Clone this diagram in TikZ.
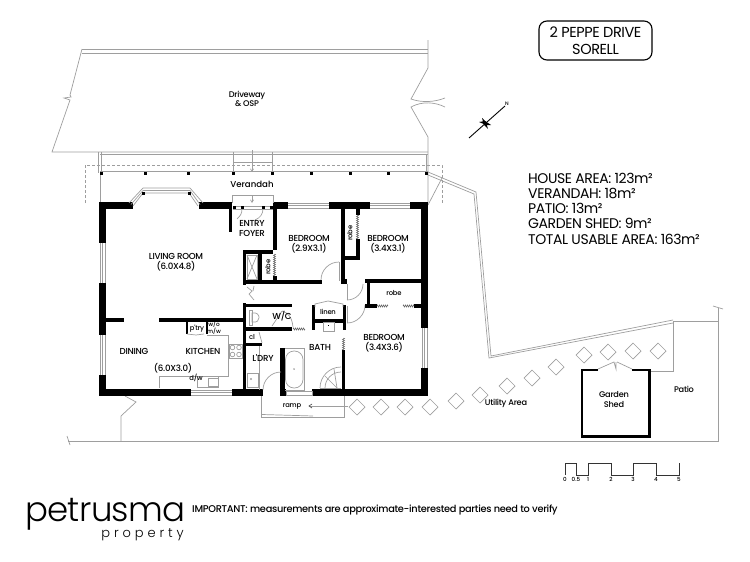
\documentclass[tikz,border=0pt]{standalone}
\usepackage{fontspec}
\setmainfont{Poppins}
\newfontfamily\logofont{Poppins Light}
\newfontfamily\medfont{Poppins Medium}
\usetikzlibrary{decorations.pathmorphing,arrows.meta}
\definecolor{ln}{gray}{0.62}
\tikzset{
  fine/.style={draw=ln,line width=0.7pt},
  dark/.style={draw=black!75,line width=0.6pt},
  dsh/.style={draw=ln,line width=0.6pt,dash pattern=on 3pt off 2pt},
  squig/.style={draw=black!60,line width=0.5pt,decorate,decoration={zigzag,segment length=2pt,amplitude=1pt}},
  wl/.style={fill=black,draw=none},
  lbl/.style={inner sep=0pt,align=center,font=\medfont\fontsize{8.7}{9.6}\selectfont\addfontfeatures{LetterSpace=-3}},
  lc/.style={inner sep=0pt,align=center,font=\medfont\fontsize{8.2}{9.6}\selectfont\addfontfeatures{LetterSpace=-3}},
  sml/.style={inner sep=0pt,align=center,font=\medfont\fontsize{6.8}{7.5}\selectfont\addfontfeatures{LetterSpace=-3}},
  tiny/.style={inner sep=0pt,align=center,font=\medfont\fontsize{5.6}{6}\selectfont},
  big/.style={inner sep=0pt,align=left,anchor=west,font=\fontsize{14}{15}\selectfont\addfontfeatures{LetterSpace=-3}},
}
\newcommand{\W}[4]{\fill[wl] (#1,#2) rectangle (#3,#4);}
\newcommand{\Post}[2]{\fill[wl] (#1-1.5,#2-1.5) rectangle (#1+1.5,#2+1.5);}
\newcommand{\Pad}[2]{\draw[fine] (#1-8,#2) -- (#1,#2-8) -- (#1+8,#2) -- (#1,#2+8) -- cycle;}
\begin{document}
\begin{tikzpicture}[x=1pt,y=-1pt]
\useasboundingbox (0,0) rectangle (750,562);
% driveway
\draw[fine] (82,49) -- (428,49);
\draw[fine] (82,53) -- (428,53);
\draw[fine] (82,49) -- (70,95) -- (71,97) -- (64,98) -- (70,100) -- (52,152) -- (428,152);
\draw[fine] (100,154.5) -- (428,154.5);
\draw[fine] (428,40) -- (428,68) -- (411,99) .. controls (422,103) and (435,102) .. (445,98);
\draw[fine] (445,107) .. controls (435,102) and (422,101) .. (411,107) -- (428,137) -- (428,205);
\draw[fine] (426,154) -- (426,173);
\draw[fine] (98.5,152) -- (98.5,173);
\draw[fine] (101.5,152) -- (101.5,173);
\draw[fine] (100,173) -- (100,205);
% steps and verandah
\draw[fine] (233,152) -- (233,173);
\draw[fine] (272,152) -- (272,173);
\draw[fine] (233,162) -- (272,162);
\draw[fine,-{Straight Barb[length=2.5pt,width=3pt]}] (252,150) -- (252,172);
\draw[fine] (100,171) -- (428,171);
\draw[dsh] (85,203) -- (85,165) -- (442,165) -- (442,203);
\foreach \px in {101,145,188,233,272,311,350,388,426} {\Post{\px}{173}}
% patio boundary
\draw[fine] (428,172) -- (476,192) -- (491,356) -- (673,320);
\draw[fine] (428,175) -- (474,194) -- (489,358) -- (673,323);
\draw[fine] (428,205) -- (442,178);
\draw[fine] (650,371) -- (673,371) -- (673,321) -- (718,321);
\draw[fine] (718,308) -- (718,441) -- (68,441);
\draw[fine] (713,306) -- (723,309);
\draw[fine] (67,436) -- (70,445);
\draw[fine] (125,396) -- (136,402) -- (121,416) -- (121,441);
% stepping pads
\Pad{357}{407}\Pad{381}{407}\Pad{405}{407}\Pad{430}{407}\Pad{456}{401}
\Pad{480}{395}\Pad{507}{386}\Pad{532}{378}\Pad{556}{367}\Pad{584}{355}
\Pad{608}{352}\Pad{633}{351}\Pad{658}{351}
% ramp
\draw[fine] (261,396) -- (261,417) -- (344,417) -- (344,396);
\draw[fine] (262,414.5) -- (313,416);
\draw[fine] (310,406) -- (348,406);
\draw[dark] (312,404) -- (309,406) -- (312,408);
% outer walls
\W{99}{202}{133}{209}\W{199}{202}{232}{209}\W{273}{202}{288}{209}
\W{329}{202}{370}{209}\W{410}{202}{428}{209}
\W{99}{202}{106}{243}\W{99}{283}{106}{335}\W{99}{375}{106}{396}
\W{99}{389}{191}{396}\W{232}{389}{263}{396}\W{312}{389}{428}{396}\W{280}{389}{286}{396}
\W{421}{202}{428}{328}\W{421}{368}{428}{396}
% windows
\foreach \a/\b in {288/329,370/410} {
  \draw[fine] (\a,203) -- (\b,203);
  \draw[fine] (\a,208) -- (\b,208);
  \draw[fine] (\a,205.5) -- (\b,205.5);
}
\draw[fine] (191,390) -- (232,390);
\draw[fine] (191,395) -- (232,395);
\draw[fine] (191,392.5) -- (232,392.5);
\foreach \a/\b/\c/\d/\e in {100/105/102.5/243/283,100/105/102.5/335/375,422/427/424.5/328/368} {
  \draw[fine] (\a,\d) -- (\a,\e); \draw[fine] (\b,\d) -- (\b,\e); \draw[fine] (\c,\d) -- (\c,\e);
}
% bay window
\draw[fine] (129,203) -- (143,188) -- (190,188) -- (203,203);
\draw[fine] (133,206) -- (143,193) -- (189,193) -- (198,206);
\draw[fine] (131,204.5) -- (143,190.5) -- (190,190.5) -- (200,204.5);
\Post{143}{193}\Post{189}{193}
% entry
\draw[fine] (232,203) -- (232,195) -- (273,195) -- (273,203);
\draw[fine,-{Straight Barb[length=2.5pt,width=3pt]}] (252,195) -- (252,203);
\draw[fine] (233,206) -- (273,206);
\draw[fine] (233,209) -- (273,209);
\Post{242}{207}\Post{263}{207}\Post{234}{207}\Post{271}{207}
\draw[fine] (242,209) .. controls (242,214) and (240,216) .. (237,219);
\draw[fine] (263,209) .. controls (263,214) and (260,218) .. (255,220);
\W{228.5}{205}{232}{232}
% living-dining
\W{106}{318}{124}{322}\W{159}{318}{246}{322}
% entry/robe block
\W{273}{205}{276.5}{250}\W{242.5}{250}{273}{254}\W{242.5}{250}{246}{285}\W{258}{254}{261.5}{281}
\W{242.5}{280}{322}{284}\W{272.5}{276}{276.5}{281}
\draw[fine] (247,255) rectangle (257,279);
\draw[fine] (247,255) -- (257,279);
\draw[fine] (257,255) -- (247,279);
\draw[squig] (274.5,254) -- (274.5,276);
\draw[fine] (247,287) -- (252,291) -- (249,294) -- (254,300);
\draw[fine] (254,286) -- (253,291);
% bedroom 2 door and wall
\W{341}{205}{344.5}{283}\W{341}{279}{347}{284}
\draw[fine] (339,262) -- (339,281);
\draw[fine] (339,262) arc[start angle=-90,end angle=-180,radius=18];
% robe of bedroom 3
\W{356}{209}{359.5}{215}\W{356}{239}{359.5}{259}\W{345}{256}{359.5}{259.5}
\draw[squig] (357.5,215) -- (357.5,239);
% door 2, 3
\draw[fine] (347,284) -- (347,300);
\draw[fine] (347,300) arc[start angle=90,end angle=0,radius=16];
\draw[fine] (347,306) -- (347,323);
\draw[fine] (347,323) arc[start angle=90,end angle=0,radius=18];
% lower robe
\W{365}{279}{422}{283}\W{367}{283}{370}{305}\W{365}{304}{377}{307.5}\W{414}{304}{422}{307.5}
\draw[squig] (377,306) -- (388,306);
\draw[squig] (403,306) -- (414,306);
% linen
\W{312}{305}{315}{330}\W{343}{305}{346}{330}\W{312}{319}{346}{322.5}
\draw[fine] (315,307) -- (315,304) -- (328,301) -- (343,304) -- (343,307);
\draw[fine] (323,322) rectangle (334,331);
\W{328}{325}{329}{326}
% W/C and l'dry
\W{242.5}{303}{246}{396}\W{243}{304}{292}{307}\W{243}{327}{292}{331}\W{246}{343}{262}{346}
\draw[squig] (293,329) -- (305,329);
\W{280}{348}{285}{396}
\draw[fine] (249,310) rectangle (252,325);
\draw[fine] (252,313) .. controls (261,311) and (262,324) .. (252,322) -- cycle;
\draw[fine] (272,326) -- (282,311);
\draw[fine] (282,311) .. controls (289,313) and (292,318) .. (293,327);
\draw[fine] (259,332) -- (262,343);
\draw[fine] (259,346) -- (259,390);
\draw[fine] (247,373) rectangle (258,387);
\draw[fine] (251,379) circle (0.6);
\draw[fine] (263,390) arc[start angle=180,end angle=270,radius=18];
% bath
\draw[fine] (285,348) -- (304,348) -- (304,390) -- (285,390);
\draw[fine,rounded corners=8.5pt] (285.5,351) rectangle (303,388);
\draw[fine] (294,369) circle (0.5);
\draw[fine] (286,391) rectangle (312,395);
\W{342}{350}{345}{396}
\draw[squig] (343.5,338) -- (343.5,350);
\draw[fine] (341,367) arc[start angle=-90,end angle=-180,radius=21];
\draw[fine] (341,372) arc[start angle=-90,end angle=-180,radius=16];
\draw[fine] (320,388) -- (341,388);
\draw[fine] (334,369) -- (337,388);
\draw[fine] (325,376) -- (337,388);
% kitchen
\W{186}{322}{188}{334}\W{206}{322}{208}{334}
\draw[fine] (159,388) -- (159,376) -- (228,376) -- (228,335) -- (207,335);
\draw[fine] (187,334) -- (196,335) -- (204,334);
\draw[fine] (197,376) rectangle (218,387);
\draw[fine] (208,378) rectangle (218,386);
\draw[fine] (229,344) rectangle (242,358);
\draw[fine] (232.5,347.5) circle (2.3);\draw[fine] (239,347.5) circle (2.3);
\draw[fine] (232.5,354.5) circle (2.3);\draw[fine] (239,354.5) circle (2.3);
% shed
\draw[black,line width=2.4pt] (598,370) -- (582,370) -- (582,436.5) -- (649.5,436.5) -- (649.5,370) -- (632,370);
\draw[fine] (598,369) -- (614,362) -- (616,369) -- (616,362);
\draw[fine] (632,369) -- (617,362);
% scale
\draw[black!80,line width=0.8pt] (565,475) -- (565,463) -- (576,463) -- (576,475) -- (588,475) -- (588,463) -- (611,463) -- (611,475) -- (633,475) -- (633,463) -- (656,463) -- (656,475) -- (679,475) -- (679,463);
\node[tiny] (s0) at (565,479.5) {0};
\node[tiny] (s05) at (576,479.5) {0.5};
\node[tiny] (s1) at (588,479.5) {1};
\node[tiny] (s2) at (611,479.5) {2};
\node[tiny] (s3) at (633,479.5) {3};
\node[tiny] (s4) at (656,479.5) {4};
\node[tiny] (s5) at (679,479.5) {5};
% north
\draw[black,line width=0.9pt] (469,138) -- (505,106);
\fill[black] (479,122) -- (485,121) -- (491,125) -- (486,125) -- cycle;
\fill[black] (482,118) -- (486,122) -- (488,129) -- (484,125) -- cycle;
\node[inner sep=0pt,font=\medfont\fontsize{5}{5}\selectfont] (north) at (507,104) {N};
% labels
\node[lc] (drive) at (247,99) {Driveway\\\& OSP};
\node[lc,font=\medfont\fontsize{8.6}{9.6}\selectfont] (ver) at (252,184) {Verandah};
\node[lbl] (living) at (176,262.5) {LIVING ROOM\\(6.0X4.8)};
\node[lbl] (entry) at (252,228.5) {ENTRY\\FOYER};
\node[sml,rotate=90] (robea) at (268,267) {robe};
\node[lbl] (bedb) at (309,244.5) {BEDROOM\\(2.9X3.1)};
\node[lbl] (bedc) at (388,244) {BEDROOM\\(3.4X3.1)};
\node[sml,rotate=90] (robeb) at (350,233) {robe};
\node[sml] (robec) at (394,293) {robe};
\node[lbl] (bedd) at (384,343.5) {BEDROOM\\(3.4X3.6)};
\node[lbl] (bath) at (320,347) {BATH};
\node[lbl] (wc) at (282,316) {W/C};
\node[sml] (linen) at (328,312) {linen};
\node[sml] (cl) at (252,337) {cl};
\node[lbl] (ldry) at (263,358) {L'DRY};
\node[lbl] (dining) at (134,351) {DINING};
\node[lbl] (kitchen) at (203,351) {KITCHEN};
\node[lbl] (sixthree) at (173,368) {(6.0X3.0)};
\node[sml] (dw) at (196,378) {d/w};
\node[sml] (ptry) at (197,329) {p'try};
\node[sml,font=\medfont\fontsize{5.8}{6.3}\selectfont] (wo) at (214,328) {w/o\\m/w};
\node[sml] (ramp) at (292,406) {ramp};
\node[lc] (util) at (506,403) {Utility Area};
\node[lc] (garden) at (614,399.5) {Garden\\Shed};
\node[lc] (patio) at (684,389) {Patio};
% title
\node[draw=black,line width=1.1pt,rounded corners=8pt,minimum width=113pt,minimum height=39pt,inner sep=0pt,align=center,font=\fontsize{14.5}{17}\selectfont\addfontfeatures{LetterSpace=-3}] (title) at (595.5,40.5) {2 PEPPE DRIVE\\SORELL};
% areas
\node[big] (aa) at (528,178) {HOUSE AREA: 123m²};
\node[big] (ab) at (528,193) {VERANDAH: 18m²};
\node[big] (ac) at (528,208) {PATIO: 13m²};
\node[big] (ad) at (528,223.5) {GARDEN SHED: 9m²};
\node[big] (ae) at (528,239) {TOTAL USABLE AREA: 163m²};
% footer
\node[inner sep=0pt,anchor=west,font=\logofont\fontsize{34}{34}\selectfont\addfontfeatures{LetterSpace=-2}] (logo) at (25,514) {petrusma};
\node[inner sep=0pt,anchor=east,font=\logofont\fontsize{13}{13}\selectfont\addfontfeatures{LetterSpace=30}] (prop) at (184,535) {property};
\node[inner sep=0pt,anchor=west,font=\medfont\fontsize{9.8}{10}\selectfont\addfontfeatures{LetterSpace=-3}] (imp) at (192,510) {IMPORTANT: measurements are approximate-interested parties need to verify};
\end{tikzpicture}
\end{document}
